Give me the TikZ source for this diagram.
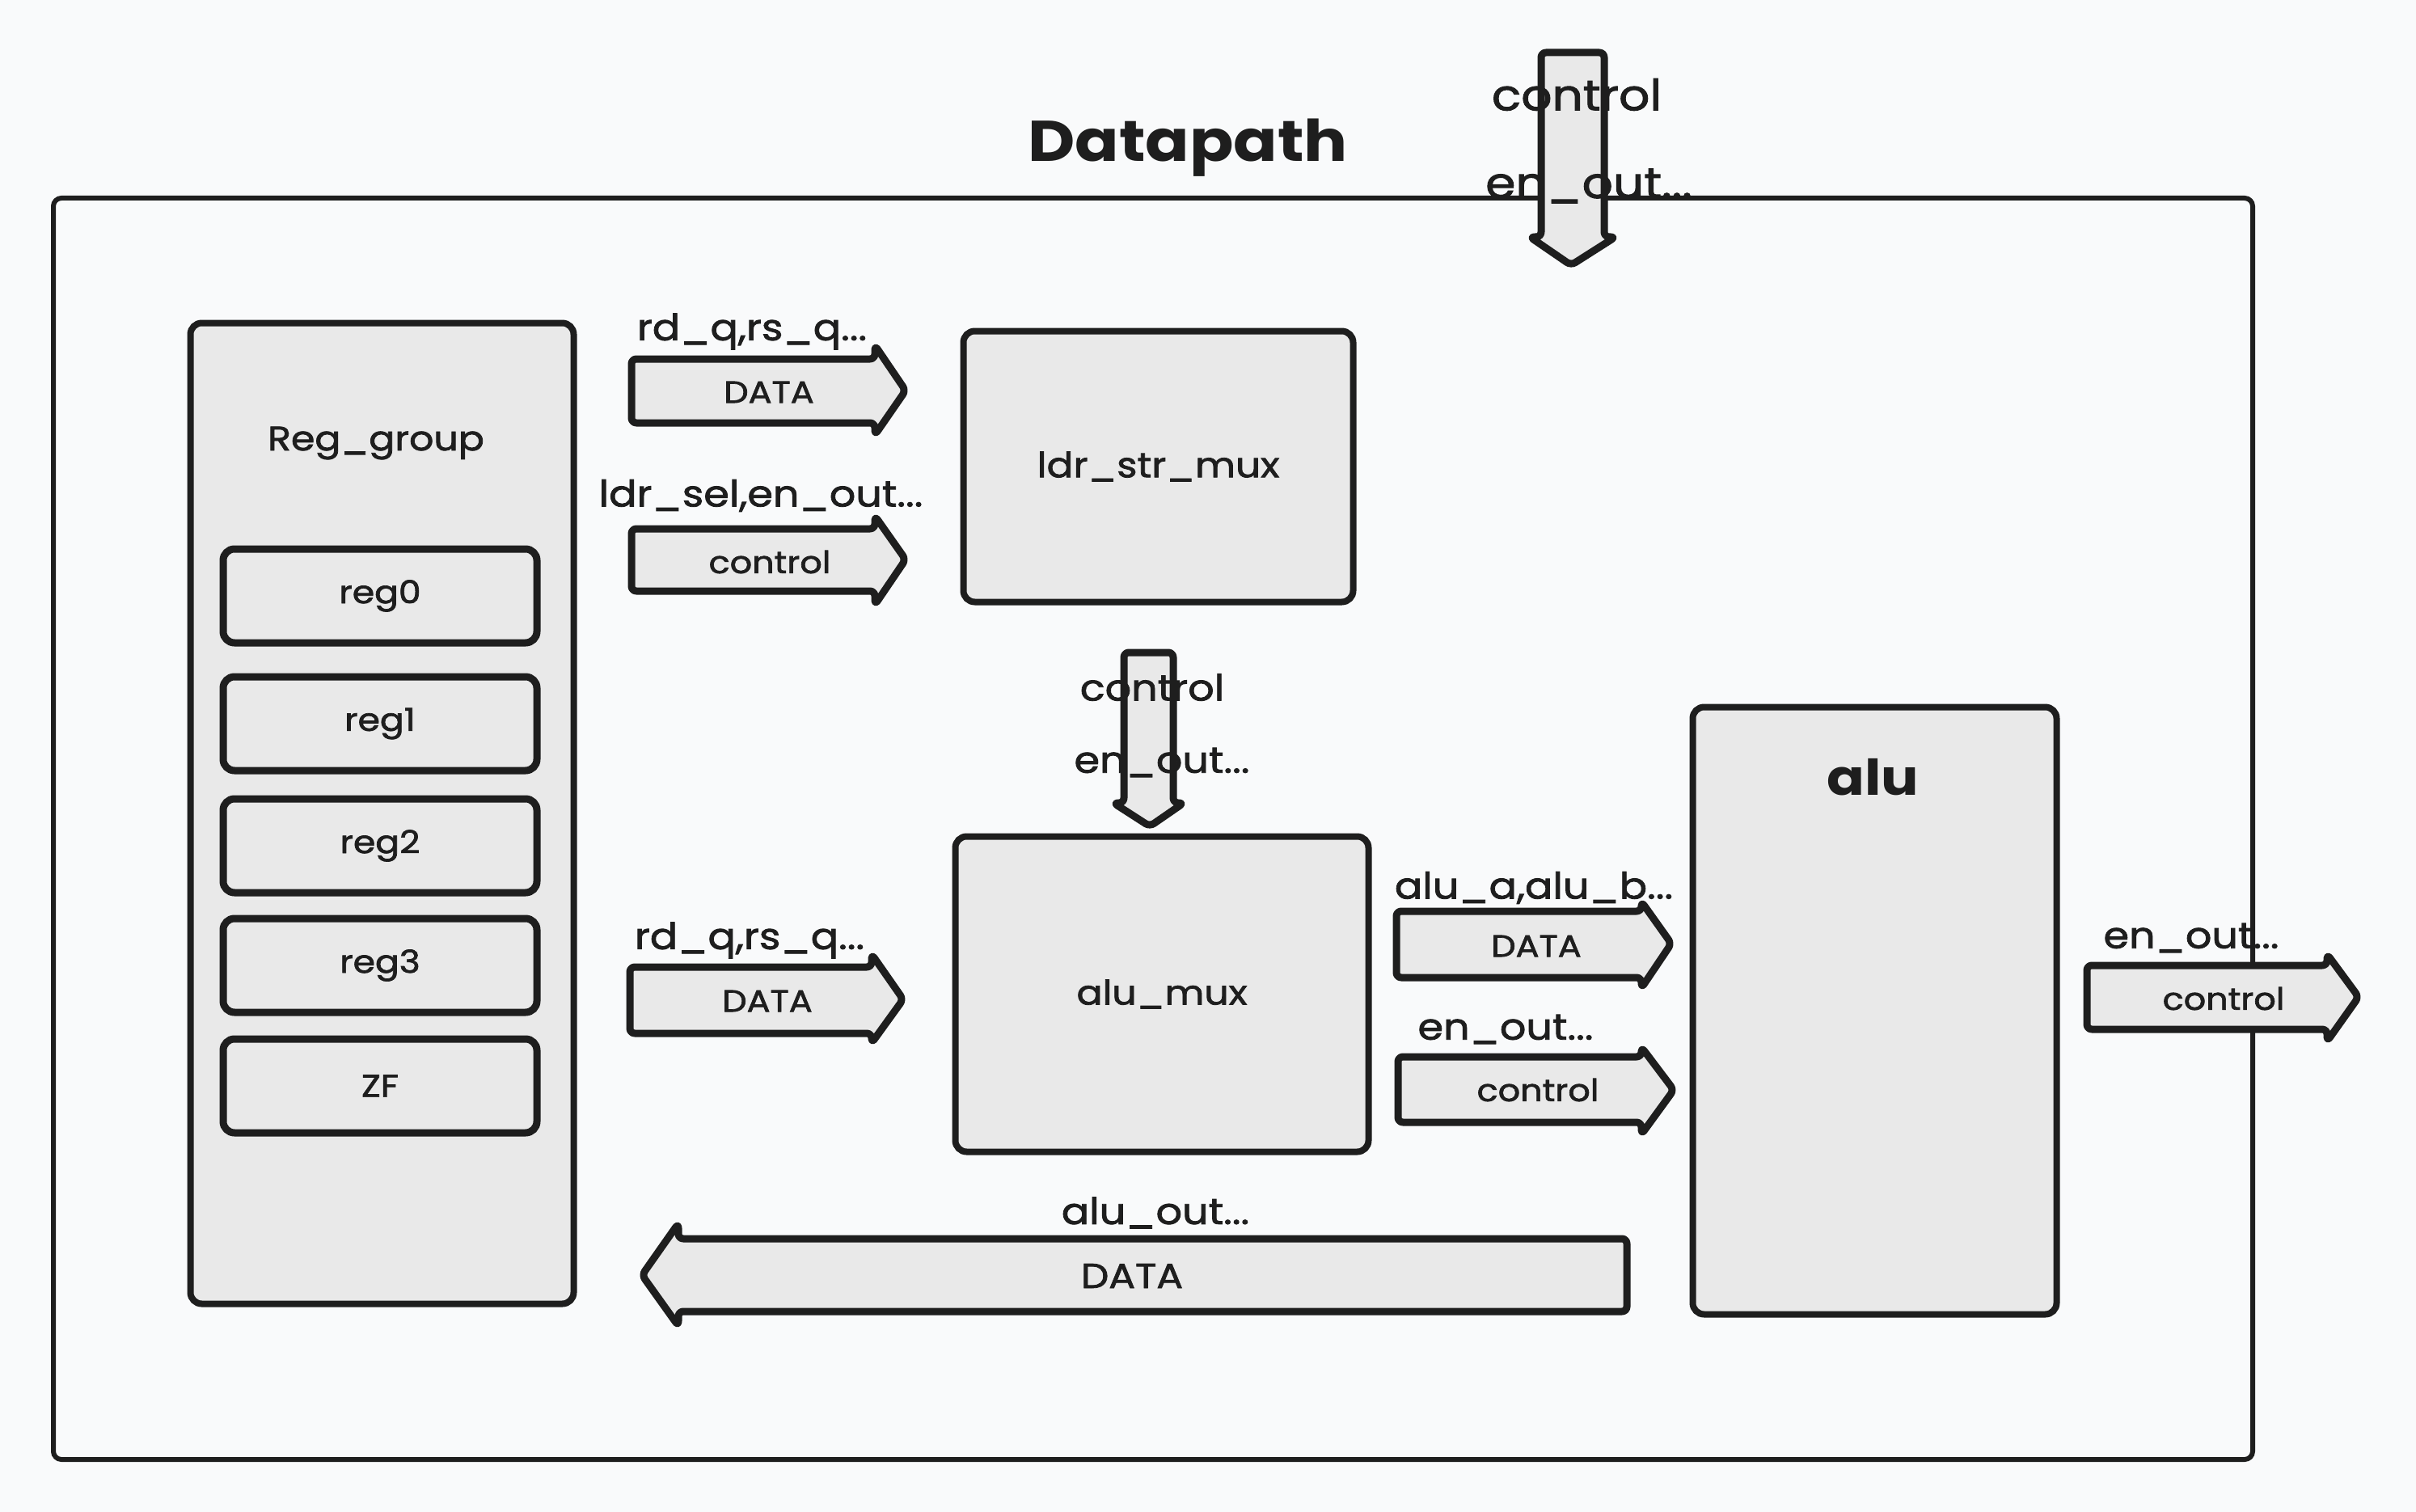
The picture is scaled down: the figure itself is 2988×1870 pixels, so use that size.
\documentclass[tikz,border=0pt]{standalone}
\usepackage{fontspec}
\setmainfont{Poppins}[FakeStretch=1.13, UprightFeatures={FakeBold=1.8}]
\definecolor{ink}{HTML}{1E1E1E}
\definecolor{boxfill}{HTML}{E9E9E9}
\definecolor{bgc}{HTML}{F9FAFB}
\newcommand\dpLblFont{\fontsize{45}{50}\selectfont}
\newcommand\dpInFont{\fontsize{38}{42}\selectfont}
\newcommand\dpBigInFont{\fontsize{43}{47}\selectfont}
\newcommand\dpBoxFont{\fontsize{42}{48}\selectfont}
\newcommand\dpMuxFont{\fontsize{43}{48}\selectfont}
\newcommand\dpRegFont{\fontsize{39}{44}\selectfont}
\newcommand\dpTopFont{\fontsize{53}{60}\selectfont}
\newcommand\dpTitleFont{\bfseries\fontsize{71}{76}\selectfont}
\newcommand\dpAluFont{\bfseries\fontsize{61}{66}\selectfont}
\tikzset{
  frame/.style={draw=ink, line width=6pt, rounded corners=10pt},
  box/.style={draw=ink, fill=boxfill, line width=8pt, rounded corners=14pt, inner sep=0pt, text=ink},
  regbox/.style={box, line width=9pt, minimum width=388pt, minimum height=116pt, font=\dpRegFont},
  blk/.style={draw=ink, fill=boxfill, line width=9pt, rounded corners=6pt, line join=round},
  lbl/.style={inner sep=0pt, text=ink, font=\dpLblFont},
  toplbl/.style={inner sep=0pt, text=ink, font=\dpTopFont},
  intext/.style={inner sep=0pt, text=ink, font=\dpInFont},
  bigintext/.style={inner sep=0pt, text=ink, font=\dpBigInFont}
}
\begin{document}
\begin{tikzpicture}[x=1pt,y=-1pt]
\fill[bgc] (0,0) rectangle (2988,1870);
\useasboundingbox (0,0) rectangle (2988,1870);

% outer frame and title
\node[frame, minimum width=2720pt, minimum height=1560pt] (frame) at (1426,1025) {};
\node[inner sep=0pt, text=ink, font=\dpTitleFont, anchor=base] (title) at (1469,200) {Datapath};

% register group
\node[box, minimum width=474pt, minimum height=1213pt] (reggroup) at (472.5,1006) {};
\node[inner sep=0pt, text=ink, font=\dpBoxFont, anchor=base] (reggrouptxt) at (465,557) {Reg\_group};
\node[regbox] (reg0) at (470,737) {reg0};
\node[regbox] (reg1) at (470,895) {reg1};
\node[regbox] (reg2) at (470,1046) {reg2};
\node[regbox] (reg3) at (470,1194) {reg3};
\node[regbox] (zf) at (470,1343) {ZF};

% muxes and alu
\node[box, minimum width=482pt, minimum height=335pt, font=\dpMuxFont] (ldr) at (1432.5,577) {ldr\_str\_mux};
\node[box, minimum width=511pt, minimum height=390pt, font=\dpBoxFont] (alumux) at (1437,1229.5) {alu\_mux};
\node[box, minimum width=450pt, minimum height=751pt] (alu) at (2318.5,1250) {};
\node[inner sep=0pt, text=ink, font=\dpAluFont, anchor=base] (alutxt) at (2316,983) {alu};

% block arrows
\draw[blk] (781,444) -- (1082,444) -- (1082,427) -- (1120,483) -- (1082,538) -- (1082,523) -- (781,523) -- cycle;
\node[intext] (a1t) at (951,485) {DATA};
\node[lbl] (a1l) at (930,410) {rd\_q,rs\_q...};

\draw[blk] (781,654) -- (1082,654) -- (1082,638) -- (1120,692) -- (1082,748) -- (1082,731) -- (781,731) -- cycle;
\node[intext] (a2t) at (952,695) {control};
\node[lbl] (a2l) at (941,613) {ldr\_sel,en\_out...};

\draw[blk] (779,1196) -- (1078,1196) -- (1078,1180) -- (1117,1236) -- (1078,1290) -- (1078,1278) -- (779,1278) -- cycle;
\node[intext] (a3t) at (949,1238) {DATA};
\node[lbl] (a3l) at (927,1163) {rd\_q,rs\_q...};

\draw[blk] (1727,1127) -- (2030,1127) -- (2030,1115) -- (2067,1167) -- (2030,1222) -- (2030,1209) -- (1727,1209) -- cycle;
\node[intext] (a4t) at (1900,1170) {DATA};
\node[lbl] (a4l) at (1897,1098) {alu\_a,alu\_b...};

\draw[blk] (1729,1307) -- (2030,1307) -- (2030,1295) -- (2070,1348) -- (2030,1403) -- (2030,1388) -- (1729,1388) -- cycle;
\node[intext] (a5t) at (1902,1348) {control};
\node[lbl] (a5l) at (1862,1273) {en\_out...};

\draw[blk] (2581,1194) -- (2878,1194) -- (2878,1180) -- (2917,1233) -- (2878,1288) -- (2878,1273) -- (2581,1273) -- cycle;
\node[intext] (a6t) at (2750,1235) {control};
\node[lbl] (a6l) at (2710,1160) {en\_out...};

\draw[blk] (2012,1532) -- (839,1532) -- (839,1513) -- (794,1577) -- (839,1640) -- (839,1622) -- (2012,1622) -- cycle;
\node[bigintext] (a7t) at (1400,1578) {DATA};
\node[lbl] (a7l) at (1429,1500) {alu\_out...};

\draw[blk] (1906,65) -- (1906,293) -- (1892,293) -- (1943,328) -- (1998,293) -- (1984,293) -- (1984,65) -- cycle;
\node[toplbl] (d1a) at (1950,117) {control};
\node[toplbl] (d1b) at (1965,230) {en\_out...};

\draw[blk] (1390,807) -- (1390,993) -- (1377,993) -- (1422,1022) -- (1464,993) -- (1451,993) -- (1451,807) -- cycle;
\node[lbl] (d2a) at (1425,850) {control};
\node[lbl] (d2b) at (1437,943) {en\_out...};
\end{tikzpicture}
\end{document}
